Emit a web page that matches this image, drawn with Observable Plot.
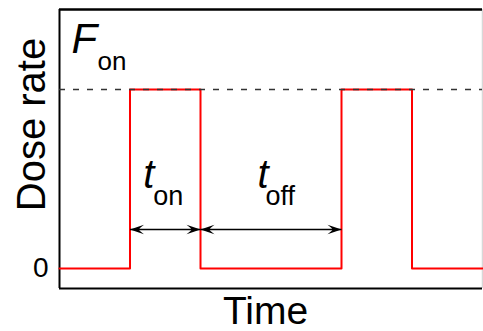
<!DOCTYPE html>
<html><head><meta charset="utf-8">
<script src="https://cdn.jsdelivr.net/npm/d3@7"></script>
<script src="https://cdn.jsdelivr.net/npm/@observablehq/plot@0.6"></script>
<style>body{margin:0;background:#fff} svg{display:block}</style>
</head><body><div id="chart"></div>
<script>
// Pulse train data (time units, dose-rate units with F_on = 1)
const times = [0, 2, 4, 8, 10, 12];
const rates = [0, 1, 0, 1, 0, 0];
const Fon = 1;
const onStart = 2, onEnd = 4, nextOn = 8;
const timeDomain = [0, 12];
const rateDomain = [-0.112, 1.447];
const yTicks = [0];
const yTickLabels = ["0"];
const yLabel = "Dose rate";
const xLabel = "Time";
const arrowLevel = 0.218; // fraction of F_on where the interval arrows sit

const series = times.map((t, i) => ({t, r: rates[i]}));
const intervals = [
  {x1: onStart, x2: onEnd, sub: "on"},
  {x1: onEnd, x2: nextOn, sub: "off"}
];
const arrowY = arrowLevel * Fon;

const arrowHead = {
  draw(ctx) {
    ctx.moveTo(0, 0);
    ctx.lineTo(-14, -4.8);
    ctx.quadraticCurveTo(-9, -1, -9, 0);
    ctx.quadraticCurveTo(-9, 1, -14, 4.8);
    ctx.closePath();
  }
};

const font = "'Liberation Sans', Arial, sans-serif";

const chart = Plot.plot({
  width: 483,
  height: 331,
  marginLeft: 59,
  marginRight: 1,
  marginTop: 9,
  marginBottom: 43,
  style: {fontFamily: font, background: "#fff", color: "#000"},
  x: {domain: timeDomain, axis: null},
  y: {domain: rateDomain, axis: null},
  marks: [
    Plot.ruleX([timeDomain[1]], {stroke: "#d8d8d8", strokeWidth: 1.5}),
    Plot.ruleY([rateDomain[1]], {stroke: "#000", strokeWidth: 2.5}),
    Plot.ruleY([rateDomain[0]], {stroke: "#000", strokeWidth: 2}),
    Plot.ruleX([timeDomain[0]], {stroke: "#000", strokeWidth: 2}),
    Plot.line(series, {x: "t", y: "r", curve: "step-after", stroke: "#ff0000", strokeWidth: 2}),
    Plot.ruleY([Fon], {stroke: "#333", strokeWidth: 1.5, strokeDasharray: "6,8"}),
    Plot.link(intervals, {x1: "x1", x2: "x2", y1: arrowY, y2: arrowY, stroke: "#000", strokeWidth: 1.5}),
    Plot.dot(intervals, {x: "x2", y: arrowY, symbol: arrowHead, fill: "#000", stroke: "none", rotate: 0}),
    Plot.dot(intervals, {x: "x1", y: arrowY, symbol: arrowHead, fill: "#000", stroke: "none", rotate: 180}),
    Plot.axisY({ticks: yTicks, tickFormat: (d, i) => yTickLabels[i], tickSize: 0, tickPadding: 11, fontSize: 28, label: null}),
    // F_on label
    Plot.text(["F"], {x: timeDomain[0], y: Fon, dx: 12, dy: -36, fontSize: 42, fontStyle: "italic", textAnchor: "start", lineAnchor: "bottom"}),
    Plot.text(["on"], {x: timeDomain[0], y: Fon, dx: 38, dy: -19, fontSize: 26, textAnchor: "start", lineAnchor: "bottom"}),
    // t_on label
    Plot.text(["t"], {x: (onStart + onEnd) / 2, y: arrowY, dx: -22, dy: -41, fontSize: 40, fontStyle: "italic", textAnchor: "start", lineAnchor: "bottom"}),
    Plot.text(["on"], {x: (onStart + onEnd) / 2, y: arrowY, dx: -12, dy: -24, fontSize: 27, textAnchor: "start", lineAnchor: "bottom"}),
    // t_off label
    Plot.text(["t"], {x: (onEnd + nextOn) / 2, y: arrowY, dx: -13.5, dy: -41, fontSize: 40, fontStyle: "italic", textAnchor: "start", lineAnchor: "bottom"}),
    Plot.text(["off"], {x: (onEnd + nextOn) / 2, y: arrowY, dx: -5.5, dy: -24, fontSize: 27, textAnchor: "start", lineAnchor: "bottom"}),
    // axis titles
    Plot.text([yLabel], {frameAnchor: "left", rotate: -90, dx: -27, dy: -24.5, fontSize: 40, textAnchor: "middle", lineAnchor: "middle"}),
    Plot.text([xLabel], {frameAnchor: "bottom", dx: -5.5, dy: 23, fontSize: 39, textAnchor: "middle", lineAnchor: "middle"})
  ]
});
document.getElementById("chart").appendChild(chart);
</script>
</body></html>
